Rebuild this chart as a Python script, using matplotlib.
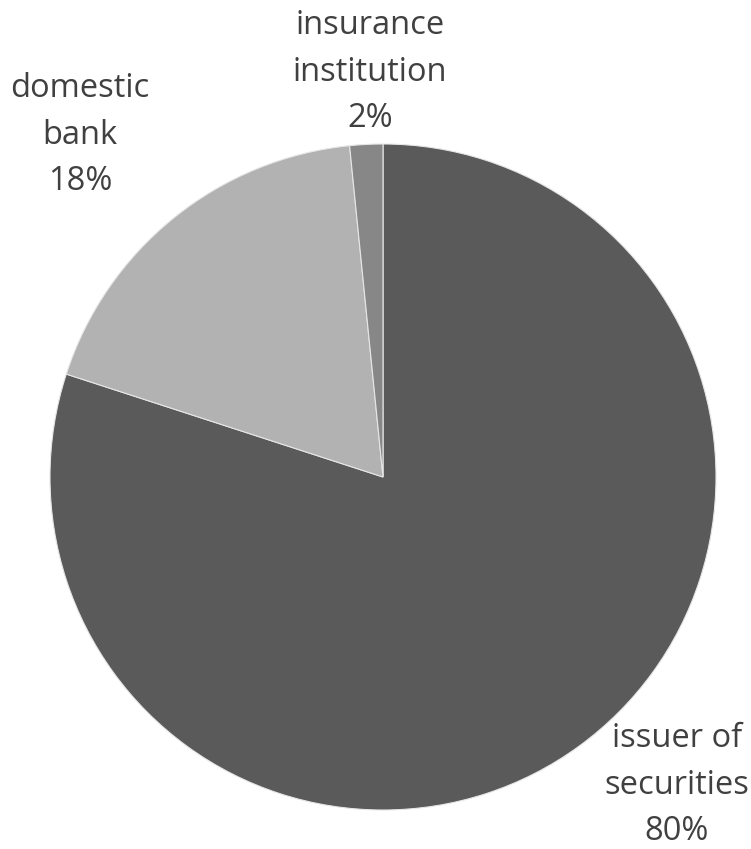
import matplotlib.pyplot as plt

# slice data (clockwise from 12 o'clock)
names = ['issuer of\nsecurities', 'domestic\nbank', 'insurance\ninstitution']
shares = [80.0, 18.4, 1.6]
pct_text = ['80%', '18%', '2%']
colors = ['#5a5a5a', '#b2b2b2', '#878787']

fig = plt.figure(figsize=(7.51, 8.49), dpi=100)
ax = fig.add_axes([50 / 751, 39 / 849, 666 / 751, 666 / 849])

ax.pie(shares, colors=colors, startangle=90, counterclock=False, radius=1,
       wedgeprops=dict(edgecolor='#e6e6e6', linewidth=0.8))
ax.set_xlim(-1, 1)
ax.set_ylim(-1, 1)
ax.axis('off')

# label positions in pie units
label_pos = [(0.883, -0.925), (-0.91, 1.027), (-0.039, 1.216)]
for name, pct, (x, y) in zip(names, pct_text, label_pos):
    ax.text(x, y, name + '\n' + pct, ha='center', va='center', fontsize=23.5,
            family='Open Sans', color='#404040', linespacing=1.53,
            clip_on=False)

fig.savefig('out.png', dpi=100, facecolor='white')
